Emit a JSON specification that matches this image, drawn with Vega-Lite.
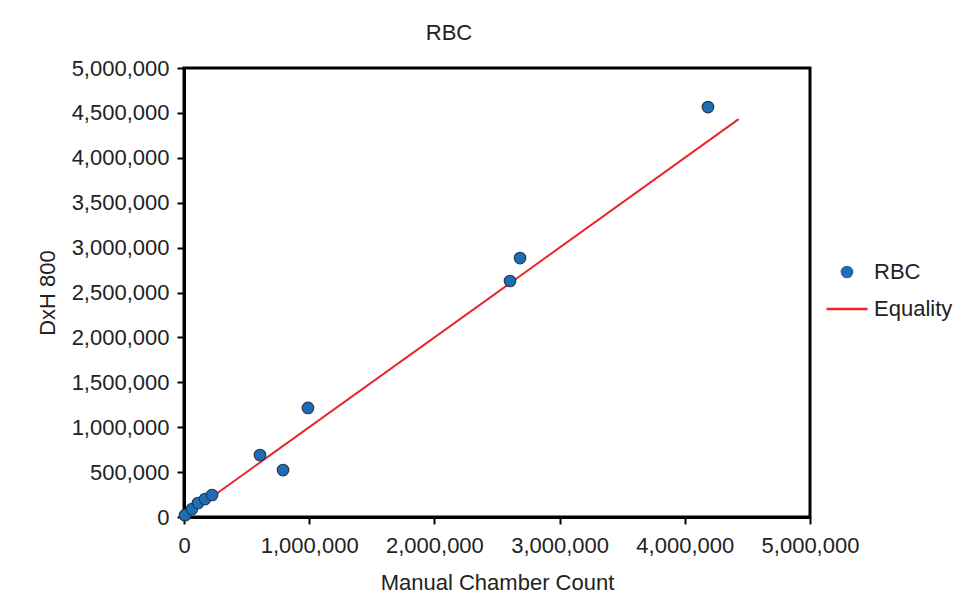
{
  "$schema": "https://vega.github.io/schema/vega-lite/v6.json",
  "autosize": {"type": "none"},
  "width": 626,
  "height": 449,
  "padding": {"left": 184, "top": 68, "right": 163, "bottom": 88},
  "background": "white",
  "config": {
    "font": "Liberation Sans",
    "view": {"stroke": "black", "strokeWidth": 3},
    "axis": {
      "grid": false,
      "domainColor": "black",
      "domainWidth": 3,
      "tickColor": "black",
      "tickWidth": 2,
      "tickSize": 7,
      "labelFlush": false,
      "labelFont": "Liberation Sans",
      "labelFontSize": 22,
      "labelColor": "#222222",
      "titleFont": "Liberation Sans",
      "titleFontSize": 22,
      "titleFontWeight": "normal",
      "titleColor": "#222222"
    },
    "legend": {
      "title": null,
      "orient": "none",
      "legendX": 652,
      "legendY": 193,
      "labelFontSize": 22,
      "labelColor": "#222222",
      "labelFont": "Liberation Sans",
      "rowPadding": 15,
      "symbolSize": 133,
      "labelOffset": 16
    }
  },
  "title": {
    "text": "RBC",
    "anchor": "middle",
    "dx": -48,
    "offset": 12,
    "fontSize": 22,
    "fontWeight": "normal",
    "font": "Liberation Sans",
    "color": "#222222"
  },
  "datasets": {
    "points": [
      {"series": "RBC", "manual": 8000, "dxh": 20000},
      {"series": "RBC", "manual": 64000, "dxh": 89000},
      {"series": "RBC", "manual": 112000, "dxh": 156000},
      {"series": "RBC", "manual": 168000, "dxh": 200000},
      {"series": "RBC", "manual": 224000, "dxh": 245000},
      {"series": "RBC", "manual": 607000, "dxh": 690000},
      {"series": "RBC", "manual": 791000, "dxh": 523000},
      {"series": "RBC", "manual": 990000, "dxh": 1214000},
      {"series": "RBC", "manual": 2604000, "dxh": 2628000},
      {"series": "RBC", "manual": 2684000, "dxh": 2884000},
      {"series": "RBC", "manual": 4185000, "dxh": 4565000}
    ],
    "equality": [
      {"series": "Equality", "manual": 0, "dxh": 0},
      {"series": "Equality", "manual": 4430000, "dxh": 4430000}
    ]
  },
  "layer": [
    {
      "data": {"name": "equality"},
      "mark": {"type": "line", "strokeWidth": 2, "clip": false},
      "encoding": {
        "x": {"field": "manual", "type": "quantitative"},
        "y": {"field": "dxh", "type": "quantitative"},
        "color": {
          "field": "series",
          "type": "nominal",
          "scale": {"domain": ["RBC", "Equality"], "range": ["#1f6db3", "#e8262d"]},
          "legend": {
            "encode": {
              "symbols": {
                "update": {
                  "shape": {"signal": "datum.value === 'Equality' ? 'stroke' : 'circle'"},
                  "size": {"signal": "datum.value === 'Equality' ? 1681 : 133"},
                  "fill": {"signal": "datum.value === 'Equality' ? 'transparent' : '#1f6db3'"},
                  "stroke": {"signal": "datum.value === 'Equality' ? '#e8262d' : '#1d3b5a'"},
                  "strokeWidth": {"signal": "datum.value === 'Equality' ? 2.5 : 1.2"},
                  "opacity": {"value": 1}
                }
              }
            }
          }
        }
      }
    },
    {
      "data": {"name": "points"},
      "mark": {"type": "point", "filled": true, "opacity": 1, "size": 133, "stroke": "#1d3b5a", "strokeWidth": 1.2, "clip": false},
      "encoding": {
        "x": {
          "field": "manual",
          "type": "quantitative",
          "scale": {"domain": [0, 5000000], "nice": false},
          "axis": {"values": [0, 1000000, 2000000, 3000000, 4000000, 5000000], "format": ",d", "labelPadding": 11, "title": "Manual Chamber Count", "titlePadding": 16}
        },
        "y": {
          "field": "dxh",
          "type": "quantitative",
          "scale": {"domain": [0, 5000000], "nice": false},
          "axis": {"values": [0, 500000, 1000000, 1500000, 2000000, 2500000, 3000000, 3500000, 4000000, 4500000, 5000000], "format": ",d", "labelPadding": 8, "title": "DxH 800", "titlePadding": 12}
        },
        "color": {
          "field": "series",
          "type": "nominal",
          "scale": {"domain": ["RBC", "Equality"], "range": ["#1f6db3", "#e8262d"]},
          "legend": {
            "encode": {
              "symbols": {
                "update": {
                  "shape": {"signal": "datum.value === 'Equality' ? 'stroke' : 'circle'"},
                  "size": {"signal": "datum.value === 'Equality' ? 1681 : 133"},
                  "fill": {"signal": "datum.value === 'Equality' ? 'transparent' : '#1f6db3'"},
                  "stroke": {"signal": "datum.value === 'Equality' ? '#e8262d' : '#1d3b5a'"},
                  "strokeWidth": {"signal": "datum.value === 'Equality' ? 2.5 : 1.2"},
                  "opacity": {"value": 1}
                }
              }
            }
          }
        }
      }
    }
  ]
}
